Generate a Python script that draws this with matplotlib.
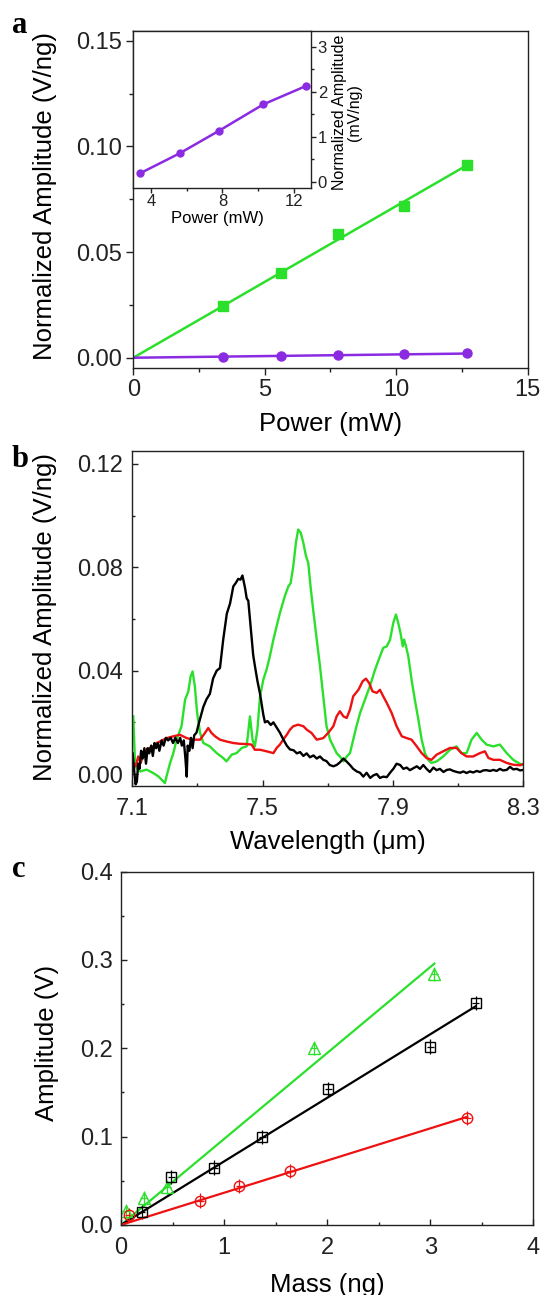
import numpy as np
import matplotlib
matplotlib.use("Agg")
import matplotlib.pyplot as plt
from matplotlib.ticker import MultipleLocator, FixedLocator, FormatStrFormatter

plt.rcParams['font.family'] = ['Liberation Sans', 'DejaVu Sans']

GREEN = '#2be02b'
PURPLE = '#8a2be2'
RED = '#ee1111'

# ---- a) amplitude vs laser power
power = [3.4, 5.6, 7.8, 10.3, 12.7]                      # mW
amp_green_a = [0.0245, 0.040, 0.0585, 0.0718, 0.0914]    # V/ng
amp_purple_mv = [0.19, 0.63, 1.13, 1.72, 2.13]           # mV/ng

# ---- b) spectra
wl_green = [7.103, 7.108, 7.113, 7.124, 7.144, 7.164, 7.180, 7.190, 7.200, 7.205,
            7.216, 7.226, 7.236, 7.251, 7.262, 7.272, 7.279, 7.285, 7.292, 7.299,
            7.308, 7.318, 7.338, 7.359, 7.379, 7.389, 7.405, 7.420, 7.436, 7.451,
            7.461, 7.469, 7.476, 7.484, 7.492, 7.502, 7.512, 7.522, 7.533, 7.543,
            7.553, 7.568, 7.579, 7.586, 7.594, 7.602, 7.609, 7.617, 7.625, 7.633,
            7.640, 7.647, 7.655, 7.666, 7.676, 7.686, 7.696, 7.707, 7.717, 7.727,
            7.737, 7.748, 7.758, 7.768, 7.778, 7.788, 7.799, 7.814, 7.829, 7.845,
            7.860, 7.870, 7.881, 7.891, 7.901, 7.909, 7.916, 7.923, 7.930, 7.934,
            7.940, 7.947, 7.957, 7.967, 7.978, 7.988, 7.998, 8.008, 8.018, 8.034,
            8.054, 8.075, 8.095, 8.110, 8.126, 8.141, 8.157, 8.172, 8.187, 8.208,
            8.228, 8.249, 8.269, 8.285, 8.295]
amp_green_b = [0.0223, 0.0055, 0.0023, 0.0010, 0.0017, 0.0004, -0.0009, -0.0022, -0.0035, -0.0009,
               0.0043, 0.0081, 0.0133, 0.0185, 0.0288, 0.0320, 0.0378, 0.0397, 0.0339, 0.0236,
               0.0159, 0.0120, 0.0107, 0.0081, 0.0062, 0.0049, 0.0075, 0.0081, 0.0101, 0.0107,
               0.0223, 0.0133, 0.0107, 0.0172, 0.0301, 0.0365, 0.0404, 0.0455, 0.0520, 0.0572,
               0.0623, 0.0688, 0.0726, 0.0739, 0.0804, 0.0894, 0.0946, 0.0933, 0.0894, 0.0843,
               0.0817, 0.0726, 0.0636, 0.0520, 0.0417, 0.0301, 0.0185, 0.0133, 0.0107, 0.0081,
               0.0068, 0.0049, 0.0068, 0.0081, 0.0133, 0.0185, 0.0236, 0.0288, 0.0339, 0.0404,
               0.0455, 0.0488, 0.0494, 0.0520, 0.0585, 0.0617, 0.0585, 0.0546, 0.0494, 0.0520,
               0.0494, 0.0455, 0.0365, 0.0288, 0.0210, 0.0133, 0.0081, 0.0055, 0.0043, 0.0049,
               0.0068, 0.0094, 0.0107, 0.0081, 0.0081, 0.0133, 0.0159, 0.0133, 0.0114, 0.0107,
               0.0114, 0.0081, 0.0055, 0.0043, 0.0036]

wl_red = [7.103, 7.111, 7.118, 7.126, 7.134, 7.144, 7.154, 7.164, 7.175, 7.185,
          7.205, 7.226, 7.246, 7.267, 7.287, 7.308, 7.323, 7.333, 7.343, 7.354,
          7.369, 7.389, 7.410, 7.430, 7.451, 7.466, 7.476, 7.492, 7.512, 7.533,
          7.543, 7.553, 7.563, 7.574, 7.584, 7.594, 7.609, 7.625, 7.635, 7.650,
          7.666, 7.686, 7.701, 7.717, 7.727, 7.737, 7.748, 7.758, 7.768, 7.778,
          7.794, 7.807, 7.817, 7.827, 7.837, 7.850, 7.860, 7.870, 7.881, 7.896,
          7.911, 7.927, 7.942, 7.957, 7.973, 7.988, 8.003, 8.018, 8.034, 8.054,
          8.075, 8.095, 8.110, 8.126, 8.146, 8.167, 8.182, 8.193, 8.208, 8.228,
          8.249, 8.269, 8.290, 8.300]
amp_red_b = [0.0043, 0.0030, 0.0068, 0.0043, 0.0081, 0.0094, 0.0101, 0.0107, 0.0120, 0.0126,
             0.0139, 0.0146, 0.0152, 0.0139, 0.0133, 0.0133, 0.0159, 0.0178, 0.0159, 0.0146,
             0.0133, 0.0126, 0.0120, 0.0117, 0.0116, 0.0114, 0.0094, 0.0094, 0.0088, 0.0081,
             0.0101, 0.0114, 0.0133, 0.0152, 0.0172, 0.0185, 0.0191, 0.0185, 0.0172, 0.0159,
             0.0133, 0.0139, 0.0159, 0.0185, 0.0223, 0.0243, 0.0223, 0.0217, 0.0249, 0.0301,
             0.0326, 0.0359, 0.0369, 0.0352, 0.0320, 0.0314, 0.0326, 0.0301, 0.0275, 0.0236,
             0.0185, 0.0146, 0.0139, 0.0133, 0.0107, 0.0081, 0.0062, 0.0055, 0.0075, 0.0088,
             0.0101, 0.0101, 0.0081, 0.0068, 0.0068, 0.0081, 0.0088, 0.0062, 0.0055, 0.0055,
             0.0043, 0.0036, 0.0034, 0.0039]

wl_black = [7.101, 7.106, 7.110, 7.114, 7.118, 7.122, 7.127, 7.132, 7.137, 7.142,
            7.147, 7.152, 7.158, 7.163, 7.168, 7.173, 7.178, 7.183, 7.190, 7.196,
            7.203, 7.210, 7.218, 7.225, 7.232, 7.240, 7.247, 7.252, 7.258, 7.263,
            7.267, 7.270, 7.275, 7.280, 7.285, 7.290, 7.297, 7.305, 7.318, 7.328,
            7.338, 7.348, 7.359, 7.369, 7.379, 7.390, 7.400, 7.410, 7.418, 7.425,
            7.432, 7.438, 7.446, 7.451, 7.456, 7.461, 7.466, 7.471, 7.476, 7.484,
            7.492, 7.497, 7.502, 7.507, 7.515, 7.525, 7.533, 7.543, 7.553, 7.563,
            7.574, 7.584, 7.595, 7.605, 7.615, 7.625, 7.635, 7.645, 7.656, 7.666,
            7.676, 7.686, 7.696, 7.706, 7.717, 7.727, 7.737, 7.748, 7.758, 7.768,
            7.778, 7.789, 7.799, 7.809, 7.819, 7.830, 7.840, 7.850, 7.860, 7.870,
            7.881, 7.891, 7.901, 7.911, 7.922, 7.932, 7.942, 7.952, 7.962, 7.973,
            7.983, 7.993, 8.003, 8.013, 8.024, 8.034, 8.044, 8.055, 8.065, 8.075,
            8.085, 8.096, 8.106, 8.116, 8.126, 8.136, 8.146, 8.157, 8.167, 8.177,
            8.187, 8.198, 8.208, 8.218, 8.228, 8.238, 8.249, 8.259, 8.269, 8.280,
            8.290, 8.300]
amp_black_b = [0.008, 0.001, -0.004, -0.003, 0.004, 0.002, 0.009, 0.006, 0.010, 0.004,
               0.010, 0.008, 0.011, 0.007, 0.012, 0.010, 0.012, 0.009, 0.013, 0.011,
               0.014, 0.013, 0.014, 0.012, 0.014, 0.012, 0.014, 0.011, 0.013, 0.006,
               -0.001, 0.011, 0.009, 0.014, 0.010, 0.015, 0.016, 0.020, 0.026, 0.029,
               0.031, 0.037, 0.040, 0.041, 0.052, 0.062, 0.066, 0.0726, 0.074, 0.0755,
               0.0752, 0.0768, 0.072, 0.068, 0.067, 0.060, 0.053, 0.046, 0.042, 0.036,
               0.031, 0.027, 0.023, 0.020, 0.0205, 0.019, 0.020, 0.018, 0.016, 0.0135,
               0.011, 0.0095, 0.0092, 0.008, 0.0085, 0.007, 0.008, 0.0065, 0.0072, 0.006,
               0.0068, 0.0055, 0.005, 0.0035, 0.003, 0.0035, 0.0045, 0.006, 0.0048, 0.0035,
               0.002, 0.001, 0.0005, -0.001, 0.0005, -0.0015, -0.0005, 0.0, -0.0015, -0.001,
               -0.0012, 0.0005, 0.002, 0.004, 0.0035, 0.002, 0.0025, 0.0015, 0.0022, 0.003,
               0.002, 0.0035, 0.002, 0.0008, 0.0025, 0.0015, 0.002, 0.0008, 0.0016, 0.0018,
               0.0012, 0.0008, 0.0005, 0.001, 0.0004, 0.001, 0.0006, 0.0012, 0.0008, 0.0014,
               0.0015, 0.0012, 0.0016, 0.0012, 0.002, 0.0014, 0.0016, 0.0028, 0.0018, 0.002,
               0.0014, 0.0016]

wl_ticks = [7.1, 7.5, 7.9, 8.3]
wl_minor = [7.3, 7.7, 8.1]

# ---- c) amplitude vs mass
mass_green = [0.048, 0.22, 0.446, 1.87, 3.04]
amp_green_c = [0.016, 0.030, 0.043, 0.200, 0.284]
mass_black = [0.20, 0.49, 0.905, 1.37, 2.01, 3.00, 3.44]
amp_black_c = [0.015, 0.054, 0.065, 0.0995, 0.154, 0.202, 0.251]
mass_red = [0.074, 0.77, 1.147, 1.64, 3.36]
amp_red_c = [0.011, 0.0276, 0.044, 0.061, 0.121]
xerr_c = 0.035
yerr_c = 0.008


def origin_fit(x, y):
    # least squares line through the origin, drawn from 0 to the last point
    x = np.asarray(x)
    y = np.asarray(y)
    m = np.sum(x * y) / np.sum(x * x)
    xs = np.array([0, x.max()])
    return xs, m * xs


def frame(ax, direction, major_len, minor_len, pad):
    for s in ax.spines.values():
        s.set_linewidth(1.0)
        s.set_color('#222222')
    ax.tick_params(which='both', direction=direction, top=False, right=False,
                   width=1.0, colors='#222222', labelsize=17, pad=pad)
    ax.tick_params(which='major', length=major_len)
    ax.tick_params(which='minor', length=minor_len)


fig = plt.figure(figsize=(5.44, 12.95), dpi=100)

# ================= panel a
ax1 = fig.add_axes([0.245, 0.7156, 0.725, 0.2605])
xs, ys = origin_fit(power, amp_green_a)
ax1.plot(xs, ys, color=GREEN, lw=1.8)
ax1.plot(power, amp_green_a, 's', color=GREEN, ms=6.5)
amp_purple_v = np.array(amp_purple_mv) / 1000.0
xs, ys = origin_fit(power, amp_purple_v)
ax1.plot(xs, ys, color=PURPLE, lw=1.8)
ax1.plot(power, amp_purple_v, 'o', color=PURPLE, ms=6.5)
ax1.set_xlim(0, 15)
ax1.set_ylim(-0.005, 0.1546)
ax1.xaxis.set_major_locator(MultipleLocator(5))
ax1.xaxis.set_minor_locator(MultipleLocator(2.5))
ax1.yaxis.set_major_locator(MultipleLocator(0.05))
ax1.yaxis.set_minor_locator(MultipleLocator(0.025))
ax1.yaxis.set_major_formatter(FormatStrFormatter('%.2f'))
frame(ax1, 'out', 5, 3, 3)
ax1.set_xlabel('Power (mW)', fontsize=18.5)
ax1.xaxis.set_label_coords(0.5, -0.13)
ax1.set_ylabel('Normalized Amplitude (V/ng)', fontsize=18.5)
ax1.yaxis.set_label_coords(-0.193, 0.51)

# inset
axi = fig.add_axes([0.245, 0.8552, 0.3276, 0.1208])
axi.plot(power, amp_purple_mv, '-o', color=PURPLE, lw=1.8, ms=5)
axi.set_xlim(3.0, 13.0)
axi.set_ylim(-0.13, 3.35)
axi.xaxis.set_major_locator(MultipleLocator(4))
axi.xaxis.set_minor_locator(MultipleLocator(2))
axi.yaxis.set_major_locator(MultipleLocator(1))
axi.yaxis.set_minor_locator(MultipleLocator(0.5))
for s in axi.spines.values():
    s.set_linewidth(1.0)
    s.set_color('#222222')
axi.tick_params(which='both', direction='out', left=False, labelleft=False,
                right=True, labelright=True, top=False, width=1.0,
                colors='#222222', labelsize=12, pad=1)
axi.tick_params(which='major', length=3.5)
axi.tick_params(which='minor', length=2)
axi.set_xlabel('Power (mW)', fontsize=12, labelpad=0)
axi.xaxis.set_label_coords(0.47, -0.15)
axi.text(1.20, 0.482, 'Normalized Amplitude\n(mV/ng)', transform=axi.transAxes,
         rotation=90, ha='center', va='center', multialignment='center',
         fontsize=11.5, linespacing=1.0)

# ================= panel b
ax2 = fig.add_axes([0.2432, 0.3927, 0.7188, 0.2591])
ax2.plot(wl_green, amp_green_b, color=GREEN, lw=1.7)
ax2.plot(wl_red, amp_red_b, color=RED, lw=1.7)
ax2.plot(wl_black, amp_black_b, color='black', lw=1.7)
ax2.set_xlim(7.1, 8.3)
ax2.set_ylim(-0.0048, 0.125)
ax2.xaxis.set_major_locator(FixedLocator(wl_ticks))
ax2.xaxis.set_minor_locator(FixedLocator(wl_minor))
ax2.yaxis.set_major_locator(MultipleLocator(0.04))
ax2.yaxis.set_minor_locator(MultipleLocator(0.02))
ax2.xaxis.set_major_formatter(FormatStrFormatter('%.1f'))
ax2.yaxis.set_major_formatter(FormatStrFormatter('%.2f'))
frame(ax2, 'in', 4.5, 2.5, 6.5)
ax2.tick_params(axis='x', pad=8)
ax2.set_xlabel('Wavelength (\u03bcm)', fontsize=18.5)
ax2.xaxis.set_label_coords(0.5, -0.13)
ax2.set_ylabel('Normalized Amplitude (V/ng)', fontsize=18.5)
ax2.yaxis.set_label_coords(-0.193, 0.505)

# ================= panel c
ax3 = fig.add_axes([0.2224, 0.0541, 0.7579, 0.2728])
for mx, my, col, mk, size in [(mass_green, amp_green_c, GREEN, '^', 8.5),
                              (mass_black, amp_black_c, 'black', 's', 7),
                              (mass_red, amp_red_c, RED, 'o', 7.5)]:
    xs, ys = origin_fit(mx, my)
    ax3.plot(xs, ys, color=col, lw=1.6)
    ax3.errorbar(mx, my, xerr=xerr_c, yerr=yerr_c, fmt=mk, color=col, mfc='none',
                 mec=col, ms=size, mew=1.0, elinewidth=0.9, capsize=0)
ax3.set_xlim(0, 4)
ax3.set_ylim(0, 0.4)
ax3.xaxis.set_major_locator(MultipleLocator(1))
ax3.xaxis.set_minor_locator(MultipleLocator(0.5))
ax3.yaxis.set_major_locator(MultipleLocator(0.1))
ax3.yaxis.set_minor_locator(MultipleLocator(0.05))
ax3.yaxis.set_major_formatter(FormatStrFormatter('%.1f'))
frame(ax3, 'in', 4.5, 2.5, 5.5)
ax3.tick_params(axis='x', pad=8.5)
ax3.set_xlabel('Mass (ng)', fontsize=18.5)
ax3.xaxis.set_label_coords(0.5, -0.136)
ax3.set_ylabel('Amplitude (V)', fontsize=18.5)
ax3.yaxis.set_label_coords(-0.150, 0.515)

# panel letters
for lab, yb in [('a', 0.9745), ('b', 0.6396), ('c', 0.323)]:
    fig.text(0.022, yb, lab, fontsize=22, fontweight='bold',
             family='Liberation Serif', va='baseline')

fig.savefig('out.png', dpi=100)
